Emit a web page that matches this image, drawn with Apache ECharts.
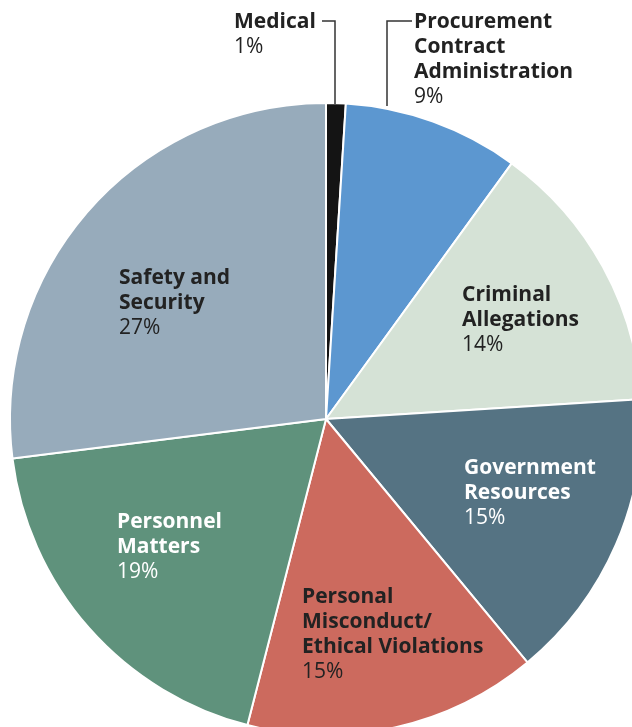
<!DOCTYPE html>
<html><head><meta charset="utf-8">
<script src="https://cdn.jsdelivr.net/npm/echarts@6/dist/echarts.min.js"></script>
<style>html,body{margin:0;padding:0;background:#fff}#c{width:632px;height:727px}</style>
</head><body><div id="c"></div>
<script>
const categories = ['Medical', 'Procurement\nContract\nAdministration', 'Criminal\nAllegations', 'Government\nResources', 'Personal\nMisconduct/\nEthical Violations', 'Personnel\nMatters', 'Safety and\nSecurity'];
const values = [1, 9, 14, 15, 15, 19, 27];
const colors = ['#141414', '#5c97d0', '#d5e2d6', '#557383', '#cc6a5e', '#5f927c', '#97abbb'];
const textColors = ['#222', '#222', '#222', '#fff', '#222', '#fff', '#222'];
// label top-left anchors (layout only)
const labelPos = [[234, 10], [414, 10], [462, 283], [464, 456], [302, 585], [117, 510], [119, 266]];

const chart = echarts.init(document.getElementById('c'));
const data = categories.map((c, i) => ({
  name: c, value: values[i],
  itemStyle: { color: colors[i] },
  label: {
    formatter: '{n|' + c.split('\n').join('}\n{n|') + '}\n{p|' + values[i] + '%}',
    rich: {
      n: { fontFamily: 'Open Sans', fontWeight: 'bold', fontSize: 21, lineHeight: 25, color: textColors[i] },
      p: { fontFamily: 'Open Sans', fontWeight: 'normal', fontSize: 21, lineHeight: 25, color: textColors[i] }
    }
  }
}));
chart.setOption({
  animation: false,
  series: [{
    type: 'pie',
    center: [326, 419],
    radius: 316,
    startAngle: 90,
    clockwise: true,
    itemStyle: { borderColor: '#fff', borderWidth: 2 },
    label: { show: true, position: 'inside', align: 'left' },
    labelLine: { show: false },
    labelLayout: function (p) {
      const pos = labelPos[p.dataIndex];
      return { x: pos[0], y: pos[1], align: 'left', verticalAlign: 'top' };
    },
    emphasis: { disabled: true },
    data: data
  }],
  graphic: [
    { type: 'polyline', shape: { points: [[322, 21], [335, 21], [335, 104]] }, style: { stroke: '#333', lineWidth: 1.5, fill: null }, z: 100 },
    { type: 'polyline', shape: { points: [[412, 21], [387, 21], [387, 106]] }, style: { stroke: '#333', lineWidth: 1.5, fill: null }, z: 100 }
  ]
});
</script></body></html>
